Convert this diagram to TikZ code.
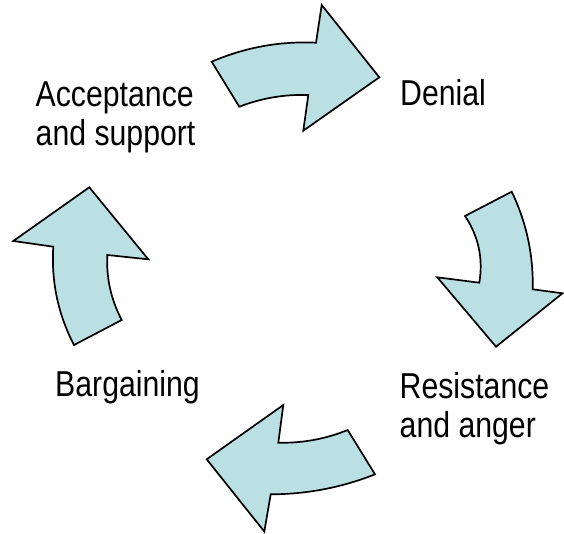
\documentclass[tikz,border=0pt]{standalone}
\usepackage{fontspec}
\setmainfont[FakeStretch=0.84]{Liberation Sans}
\definecolor{arrowfill}{RGB}{187,224,227}
\begin{document}
\begin{tikzpicture}[x=1pt,y=-1pt,
  cyclearrow/.style={draw=black,fill=arrowfill,line width=1.7pt,line join=miter},
  stage/.style={anchor=base west,inner sep=0pt,align=left,
    font=\fontsize{36}{39.5}\selectfont}]
  \useasboundingbox (0,0) rectangle (564,533);

  % top arrow: acceptance -> denial
  \draw[cyclearrow] (211.7,61.7) .. controls (245,47.4) and (279.8,41) .. (316,42.7)
    -- (321.7,5) -- (379.3,77.3) -- (303.3,130.7) -- (308.3,95)
    .. controls (284.5,94.2) and (261.5,98.1) .. (239.3,106.7) -- cycle;

  % right arrow: denial -> resistance
  \draw[cyclearrow] (465,216) -- (511.7,191.7)
    .. controls (526.5,222.5) and (533.5,255.1) .. (532.7,289.3)
    -- (562.5,293.3) -- (496,346.7) -- (437.3,277.3) -- (479.3,282.7)
    .. controls (483.3,258.6) and (478.6,236.3) .. (465,216) -- cycle;

  % bottom arrow: resistance -> bargaining
  \draw[cyclearrow] (206.7,459.3) -- (283.3,405) -- (278.3,442.7)
    .. controls (302.3,443.3) and (325.5,439) .. (347.7,430)
    -- (375,474.3) .. controls (341.5,487.6) and (306.8,494.2) .. (270.7,494.3)
    -- (264.3,531.5) -- cycle;

  % left arrow: bargaining -> acceptance
  \draw[cyclearrow] (89.3,187.3) -- (148.3,259.3) -- (107.3,255)
    .. controls (106.2,278) and (111,299.6) .. (121.7,320)
    -- (74,345) .. controls (58,314.1) and (51.1,281.4) .. (53.3,246.7)
    -- (13.3,241) -- cycle;

  % stage labels (two-line labels are placed by their last baseline)
  \node[stage] (accept)  at (35.5,145.5) {Acceptance\\and support};
  \node[stage] (denial)  at (400,105)    {Denial};
  \node[stage] (resist)  at (399.5,437.5) {Resistance\\and anger};
  \node[stage] (bargain) at (55,396)     {Bargaining};
\end{tikzpicture}
\end{document}
